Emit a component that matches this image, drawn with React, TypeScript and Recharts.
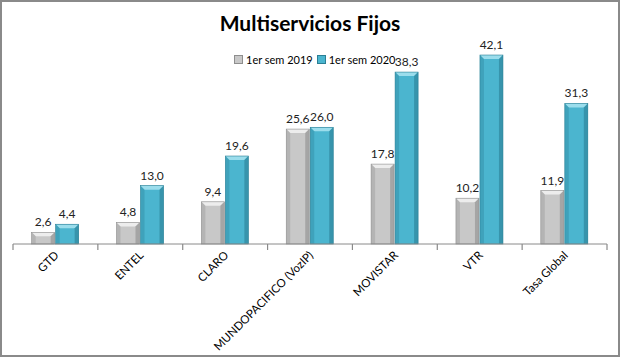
import React from 'react';
import { BarChart, Bar, XAxis, YAxis, LabelList } from 'recharts';

const categories = ['GTD', 'ENTEL', 'CLARO', 'MUNDOPACIFICO (VozIP)', 'MOVISTAR', 'VTR', 'Tasa Global'];
const sem2019 = [2.6, 4.8, 9.4, 25.6, 17.8, 10.2, 11.9];
const sem2020 = [4.4, 13.0, 19.6, 26.0, 38.3, 42.1, 31.3];

const data = categories.map((name, i) => ({ name, s2019: sem2019[i], s2020: sem2020[i] }));

const fmt = (v: any) => Number(v).toFixed(1).replace('.', ',');
const font = "Lato, 'Open Sans', sans-serif";
const axisColor = '#8a8a8a';

const W = 620;
const H = 357;
const margin = { top: 42, right: 13, left: 13, bottom: 0 };
const plotWidth = W - margin.left - margin.right;
const plotBottom = H - 113;

const makeBevel = (base: string, light: string, dark: string) => (props: any) => {
  const { x, y, width, height } = props;
  if (!height || height <= 0) return null;
  const b = Math.min(4, height / 2);
  return (
    <g>
      <rect x={x} y={y} width={width} height={height} fill={base} />
      <polygon points={`${x},${y} ${x + width},${y} ${x + width - b},${y + b} ${x + b},${y + b}`} fill={light} />
      <polygon points={`${x},${y} ${x + b},${y + b} ${x + b},${y + height} ${x},${y + height}`} fill={dark} opacity={0.35} />
      <polygon points={`${x + width},${y} ${x + width - b},${y + b} ${x + width - b},${y + height} ${x + width},${y + height}`} fill={dark} opacity={0.6} />
      <rect x={x} y={y} width={width} height={height} fill="none" stroke={dark} strokeWidth={0.6} />
    </g>
  );
};

const GrayBar = makeBevel('#C8C8C8', '#EDEDED', '#8E8E8E');
const BlueBar = makeBevel('#4BB5CF', '#9BDDEC', '#2A7F95');

// category label rotated, plus tick marks on the category boundaries
const RotTick = (props: any) => {
  const { x, payload, index } = props;
  const half = plotWidth / categories.length / 2;
  const top = plotBottom;
  return (
    <g>
      <line x1={x - half} x2={x - half} y1={top} y2={top + 6} stroke={axisColor} strokeWidth={1.2} />
      {index === categories.length - 1 && <line x1={x + half} x2={x + half} y1={top} y2={top + 6} stroke={axisColor} strokeWidth={1.2} />}
      <g transform={`translate(${x + 4},${top + 12})`}>
        <text textAnchor="end" transform="rotate(-45)" fontSize={11.5} fill="#000" fontFamily={font}>
          {payload.value}
        </text>
      </g>
    </g>
  );
};

export default function App() {
  return (
    <div style={{ position: 'absolute', left: 0, top: 0, width: W, height: H, background: '#fff', boxSizing: 'border-box', border: '2px solid #8a8a8a' }}>
      <div style={{ position: 'absolute', left: 0, right: 0, top: 8, textAlign: 'center', fontFamily: font, fontWeight: 'bold', fontSize: 21, color: '#000' }}>
        Multiservicios Fijos
      </div>
      <div style={{ position: 'absolute', left: 232, top: 51, display: 'flex', gap: 4, fontSize: 11, fontFamily: font, color: '#000' }}>
        <span style={{ display: 'flex', alignItems: 'center', gap: 3 }}>
          <span style={{ width: 7, height: 7, background: '#C8C8C8', border: '1px solid #8E8E8E' }} />1er sem 2019
        </span>
        <span style={{ display: 'flex', alignItems: 'center', gap: 3 }}>
          <span style={{ width: 7, height: 7, background: '#4BB5CF', border: '1px solid #2A7F95' }} />1er sem 2020
        </span>
      </div>
      <div style={{ position: 'absolute', left: -2, top: -2 }}>
        <BarChart width={W} height={H} data={data} margin={margin} barGap={1} barCategoryGap="22%">
          <YAxis hide domain={[0, 45]} />
          <XAxis dataKey="name" interval={0} height={113} axisLine={{ stroke: axisColor }} tickLine={false} tick={<RotTick />} />
          <Bar dataKey="s2019" name="1er sem 2019" shape={<GrayBar />} isAnimationActive={false}>
            <LabelList dataKey="s2019" position="top" offset={6} formatter={fmt} fontSize={12} fill="#222" fontFamily={font} />
          </Bar>
          <Bar dataKey="s2020" name="1er sem 2020" shape={<BlueBar />} isAnimationActive={false}>
            <LabelList dataKey="s2020" position="top" offset={6} formatter={fmt} fontSize={12} fill="#222" fontFamily={font} />
          </Bar>
        </BarChart>
      </div>
    </div>
  );
}
